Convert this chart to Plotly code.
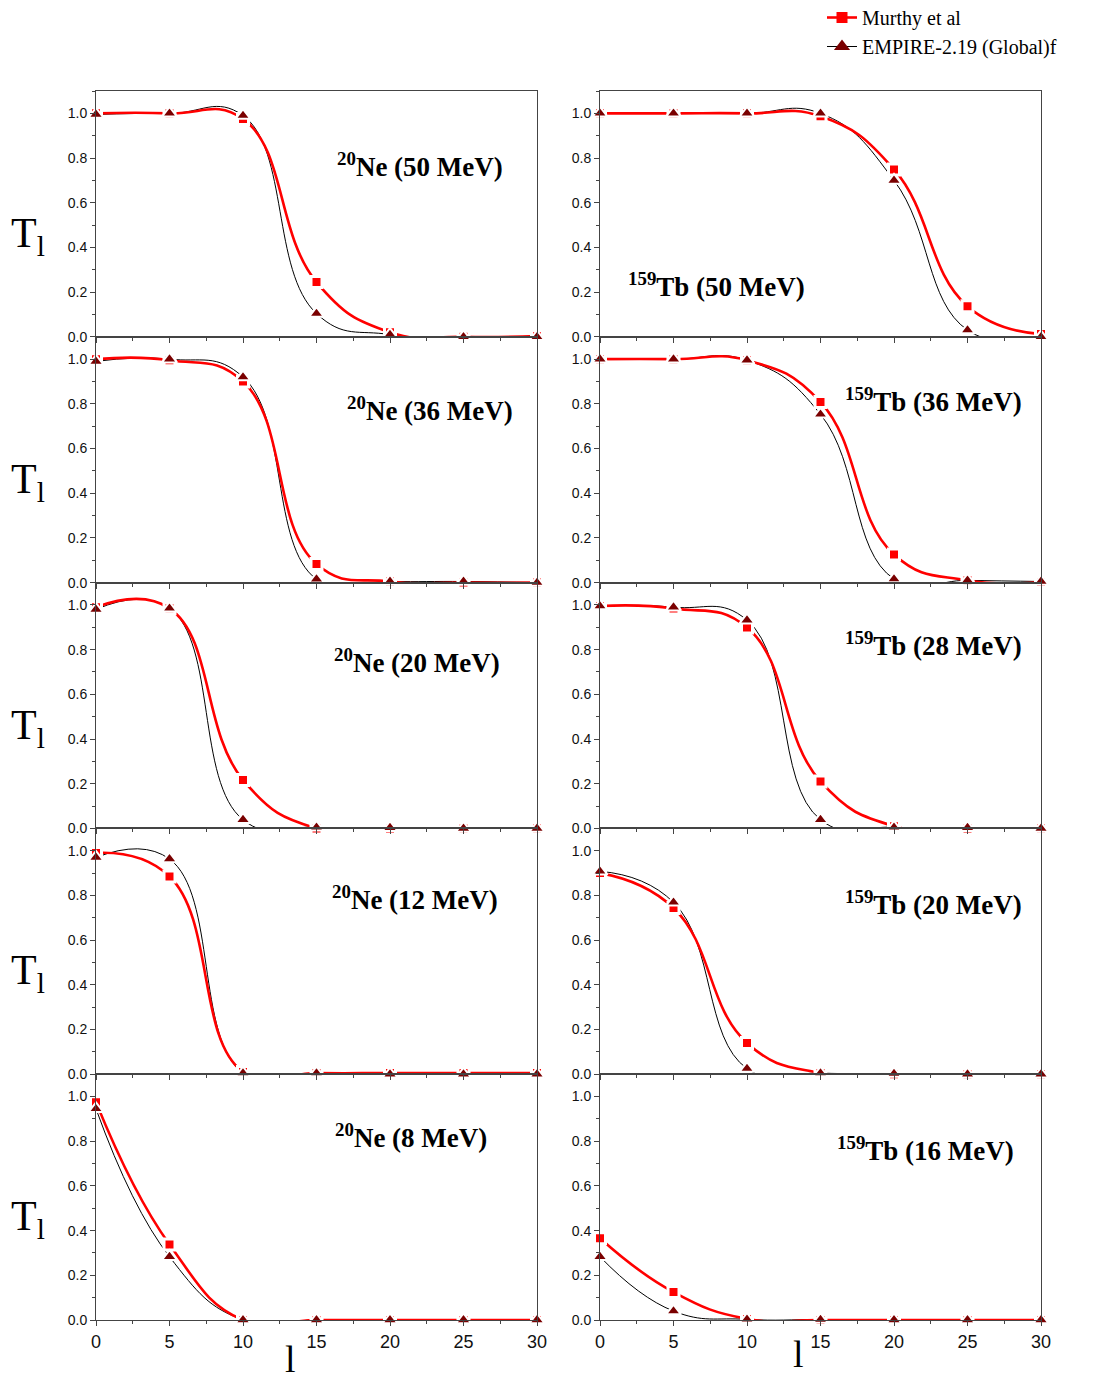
import plotly.graph_objects as go

# ---------------- data ----------------
L_VALUES = [0, 5, 10, 15, 20, 25, 30]

ne50_murthy = [1.00, 1.00, 0.975, 0.245, 0.02, 0.0, 0.003]
ne50_empire = [0.995, 1.00, 0.99, 0.104, 0.01, 0.0, 0.0]
ne36_murthy = [1.00, 0.995, 0.90, 0.083, 0.005, 0.0, 0.0]
ne36_empire = [0.99, 1.00, 0.92, 0.015, 0.005, 0.005, 0.0]
ne20_murthy = [0.99, 0.985, 0.217, 0.0, 0.0, 0.0, 0.0]
ne20_empire = [0.98, 0.985, 0.039, 0.005, 0.003, 0.0, 0.0]
ne12_murthy = [0.99, 0.885, 0.01, 0.005, 0.005, 0.005, 0.005]
ne12_empire = [0.97, 0.963, 0.005, 0.005, 0.0, 0.0, 0.0]
ne8_murthy = [0.975, 0.338, 0.0, 0.0, 0.0, 0.0, 0.0]
ne8_empire = [0.945, 0.283, 0.0, 0.0, 0.0, 0.0, 0.0]

tb50_murthy = [1.00, 1.00, 1.00, 0.987, 0.749, 0.137, 0.012]
tb50_empire = [1.00, 1.00, 1.00, 1.00, 0.70, 0.03, 0.0]
tb36_murthy = [1.00, 1.00, 0.995, 0.808, 0.126, 0.01, 0.003]
tb36_empire = [1.00, 1.00, 0.995, 0.753, 0.016, 0.01, 0.005]
tb28_murthy = [0.995, 0.984, 0.899, 0.21, 0.01, 0.0, 0.0]
tb28_empire = [0.995, 0.99, 0.932, 0.039, 0.005, 0.003, 0.0]
tb20_murthy = [0.90, 0.744, 0.14, 0.005, 0.0, 0.0, 0.0]
tb20_empire = [0.908, 0.769, 0.025, 0.005, 0.003, 0.0, 0.0]
tb16_murthy = [0.366, 0.125, 0.005, 0.0, 0.0, 0.0, 0.0]
tb16_empire = [0.283, 0.04, 0.003, 0.002, 0.0, 0.0, 0.0]

panel_labels_left = ["<sup>20</sup>Ne (50 MeV)", "<sup>20</sup>Ne (36 MeV)",
                     "<sup>20</sup>Ne (20 MeV)", "<sup>20</sup>Ne (12 MeV)",
                     "<sup>20</sup>Ne (8 MeV)"]
panel_labels_right = ["<sup>159</sup>Tb (50 MeV)", "<sup>159</sup>Tb (36 MeV)",
                      "<sup>159</sup>Tb (28 MeV)", "<sup>159</sup>Tb (20 MeV)",
                      "<sup>159</sup>Tb (16 MeV)"]
series_names = ["Murthy et al", "EMPIRE-2.19 (Global)f"]
x_tick_vals = [0, 5, 10, 15, 20, 25, 30]
y_tick_vals = [0.0, 0.2, 0.4, 0.6, 0.8, 1.0]
y_tick_text = ["0.0", "0.2", "0.4", "0.6", "0.8", "1.0"]

left_murthy = [ne50_murthy, ne36_murthy, ne20_murthy, ne12_murthy, ne8_murthy]
left_empire = [ne50_empire, ne36_empire, ne20_empire, ne12_empire, ne8_empire]
right_murthy = [tb50_murthy, tb36_murthy, tb28_murthy, tb20_murthy, tb16_murthy]
right_empire = [tb50_empire, tb36_empire, tb28_empire, tb20_empire, tb16_empire]

# ---------------- layout geometry (pixels) ----------------
W, H = 1110, 1381
COL_X = [(96, 537), (600, 1041)]
TOP = 91
PANEL_H = 245.8

# label positions (pixel centres)
label_pos_left = [(420, 165), (430, 409), (417, 661), (415, 898), (411, 1136)]
label_pos_right = [(716, 285), (933, 400), (933, 644), (933, 903), (925, 1149)]

RED = "#ff0000"
DARKRED = "#7a0000"
AXIS_COLOR = "#444444"
SERIF = "Liberation Serif, Times New Roman, serif"
SANS = "Liberation Sans, Arial, sans-serif"
SMOOTH = 1.3


def px_x(p):
    return p / W


def px_y(p):
    return 1 - p / H


fig = go.Figure()
layout = dict(
    width=W, height=H,
    margin=dict(l=0, r=0, t=0, b=0, autoexpand=False),
    paper_bgcolor="white", plot_bgcolor="white",
    showlegend=True,
    legend=dict(x=px_x(822), y=px_y(-2), xanchor="left", yanchor="top",
                font=dict(family=SERIF, size=20, color="black"),
                bgcolor="rgba(0,0,0,0)", tracegroupgap=0, itemwidth=30),
)
annotations = []

idx = 0
for col in range(2):
    murthy_sets = left_murthy if col == 0 else right_murthy
    empire_sets = left_empire if col == 0 else right_empire
    labels = panel_labels_left if col == 0 else panel_labels_right
    lpos = label_pos_left if col == 0 else label_pos_right
    for row in range(5):
        idx += 1
        xa = "x" if idx == 1 else f"x{idx}"
        ya = "y" if idx == 1 else f"y{idx}"
        top = TOP + PANEL_H * row
        bot = top + PANEL_H
        bottom_row = row == 4
        layout["xaxis" if idx == 1 else f"xaxis{idx}"] = dict(
            domain=[px_x(COL_X[col][0]), px_x(COL_X[col][1])],
            anchor=ya, range=[0, 30],
            showgrid=False, zeroline=False,
            showline=True, linecolor=AXIS_COLOR, linewidth=1, mirror=True,
            ticks="outside", ticklen=5, tickwidth=1, tickcolor=AXIS_COLOR,
            tickvals=x_tick_vals,
            showticklabels=bottom_row,
            tickfont=dict(family=SANS, size=18, color="#111111"),
            minor=dict(ticks="outside", ticklen=3, tickwidth=1,
                       tickcolor=AXIS_COLOR, dtick=2.5, tick0=0),
        )
        layout["yaxis" if idx == 1 else f"yaxis{idx}"] = dict(
            domain=[px_y(bot), px_y(top)],
            anchor=xa, range=[0, 1.1],
            showgrid=False, zeroline=False,
            showline=True, linecolor=AXIS_COLOR, linewidth=1, mirror=True,
            ticks="outside", ticklen=5, tickwidth=1, tickcolor=AXIS_COLOR,
            tickvals=y_tick_vals, ticktext=y_tick_text,
            tickfont=dict(family=SANS, size=14, color="#111111"),
            minor=dict(ticks="outside", ticklen=3, tickwidth=1,
                       tickcolor=AXIS_COLOR, dtick=0.1, tick0=0),
        )
        m = murthy_sets[row]
        e = empire_sets[row]
        # lines (black first, red on top)
        fig.add_trace(go.Scatter(x=L_VALUES, y=e, mode="lines", xaxis=xa, yaxis=ya,
                                 line=dict(color="black", width=1, shape="spline", smoothing=SMOOTH),
                                 showlegend=False, hoverinfo="skip"))
        fig.add_trace(go.Scatter(x=L_VALUES, y=m, mode="lines", xaxis=xa, yaxis=ya,
                                 line=dict(color=RED, width=2.6, shape="spline", smoothing=SMOOTH),
                                 showlegend=False, hoverinfo="skip"))
        # markers
        fig.add_trace(go.Scatter(x=L_VALUES, y=m, mode="markers", xaxis=xa, yaxis=ya,
                                 marker=dict(symbol="square", size=11, color=RED,
                                             line=dict(color="white", width=3)),
                                 cliponaxis=False, showlegend=False, name=series_names[0]))
        fig.add_trace(go.Scatter(x=L_VALUES, y=e, mode="markers", xaxis=xa, yaxis=ya,
                                 marker=dict(symbol="triangle-up", size=13, color=DARKRED,
                                             line=dict(color="white", width=2)),
                                 cliponaxis=False, showlegend=False, name=series_names[1]))
        # panel label
        annotations.append(dict(
            text=f"<b>{labels[row]}</b>", xref="paper", yref="paper",
            x=px_x(lpos[row][0]), y=px_y(lpos[row][1]),
            xanchor="center", yanchor="middle", showarrow=False,
            font=dict(family=SERIF, size=27, color="black")))
        if col == 0:
            annotations.append(dict(
                text="T<sub>l</sub>", xref="paper", yref="paper",
                x=px_x(28), y=px_y(top + 145), xanchor="center", yanchor="middle",
                showarrow=False, font=dict(family=SERIF, size=42, color="black")))

# x titles
annotations.append(dict(text="l", xref="paper", yref="paper", x=px_x(290), y=px_y(1359),
                        xanchor="center", yanchor="middle", showarrow=False,
                        font=dict(family=SERIF, size=38, color="black")))
annotations.append(dict(text="l", xref="paper", yref="paper", x=px_x(798), y=px_y(1354),
                        xanchor="center", yanchor="middle", showarrow=False,
                        font=dict(family=SERIF, size=38, color="black")))

# legend entries
fig.add_trace(go.Scatter(x=[None], y=[None], mode="lines+markers", name=series_names[0],
                         line=dict(color=RED, width=2.6),
                         marker=dict(symbol="square", size=11, color=RED)))
fig.add_trace(go.Scatter(x=[None], y=[None], mode="lines+markers", name=series_names[1],
                         line=dict(color="black", width=1),
                         marker=dict(symbol="triangle-up", size=14, color=DARKRED)))

layout["annotations"] = annotations
fig.update_layout(**layout)
fig.write_html("out.html", config={"displayModeBar": False},
               post_script="document.body.style.margin='0';")
